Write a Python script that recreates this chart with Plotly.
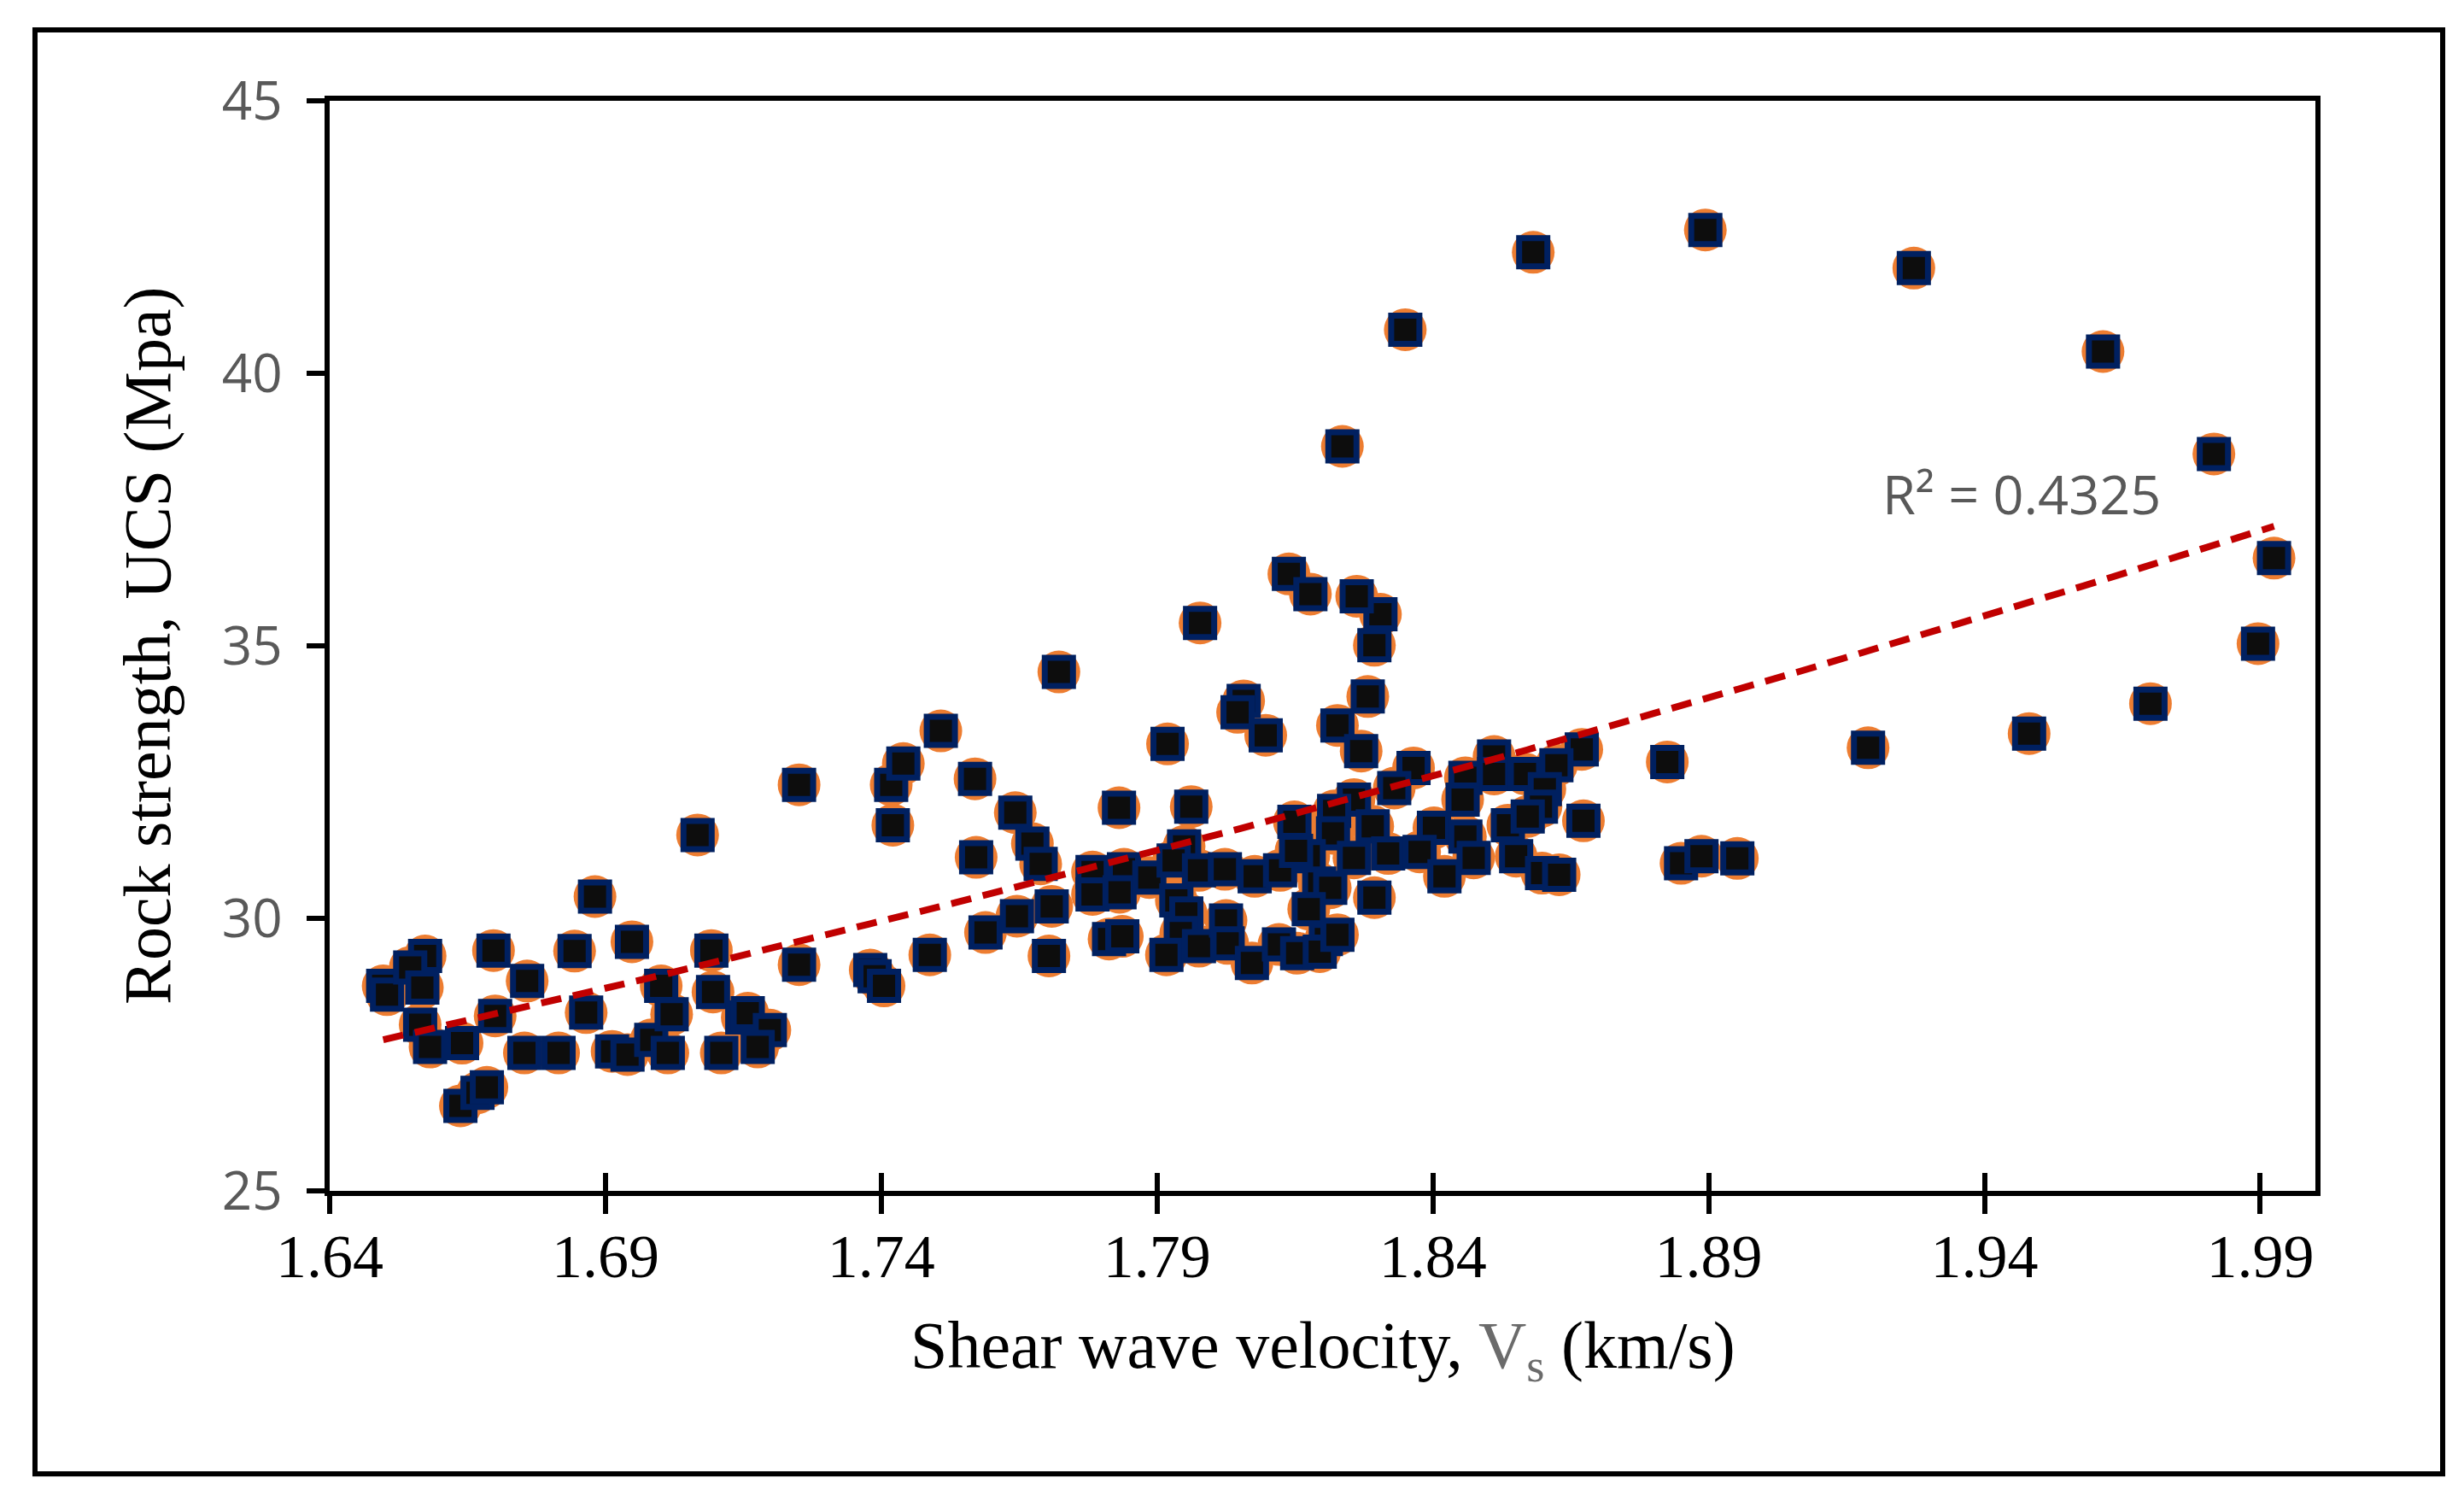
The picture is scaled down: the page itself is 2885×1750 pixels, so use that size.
import numpy as np
import plotly.graph_objects as go

# shear wave velocity (km/s) and rock strength UCS (MPa)
vs = [1.6497, 1.6504, 1.6573, 1.6546, 1.6568, 1.6564, 1.6582, 1.6640, 1.6697, 1.6758,
      1.6700, 1.6637, 1.6668, 1.6685, 1.6753, 1.6815, 1.6844, 1.6865, 1.6881, 1.6948,
      1.6912, 1.6940, 1.6983, 1.7013, 1.7001, 1.7020, 1.7067, 1.7092, 1.7095, 1.7110,
      1.7148, 1.7158, 1.7198, 1.7176, 1.7251, 1.7251, 1.7380, 1.7388, 1.7405, 1.7421,
      1.7418,
      1.7508, 1.7440, 1.7570, 1.7643, 1.7674, 1.7689, 1.7572, 1.7831, 1.7962, 1.7919,
      1.8057, 1.8046, 1.8097, 1.8149, 1.7488, 1.7589, 1.7646, 1.7709, 1.7704, 1.7783,
      1.7783, 1.7840, 1.7832, 1.7886, 1.7813, 1.7837, 1.7949, 1.7930, 1.7976, 1.8023,
      1.7935, 1.7953, 1.7943, 1.7917, 1.7976, 1.8025, 1.8028, 1.8072, 1.8077, 1.8121,
      1.8123,
      1.8294, 1.8305, 1.8282, 1.8227, 1.8270, 1.8670, 1.8624, 1.8825, 1.8511, 1.8511,
      1.8567, 1.8459, 1.8454, 1.8603, 1.8596, 1.8365, 1.8330, 1.8257, 1.8221, 1.8291,
      1.8219, 1.8402, 1.8459, 1.8536, 1.8572, 1.8673, 1.8319, 1.8376, 1.8257, 1.8474,
      1.8551, 1.8598, 1.8629, 1.8421, 1.8294, 1.8850, 1.8887, 1.8175, 1.8152, 1.8194,
      1.8214, 1.8175, 1.8206, 1.8154, 1.8195, 1.8227,
      1.8894, 1.8582, 1.8350, 1.8236, 1.9272, 1.9615, 1.9816, 1.9925, 1.9896, 1.9701,
      1.9481, 1.9189, 1.8952, 1.8139, 1.8178, 1.8262, 1.7978, 1.7722]

ucs = [28.76, 28.60, 29.31, 29.10, 28.73, 28.05, 27.64, 27.71, 29.41, 28.85,
       28.21, 26.56, 26.80, 26.90, 27.53, 27.53, 29.40, 28.27, 30.40, 29.57,
       27.56, 27.50, 27.77, 27.53, 28.76, 28.24, 31.53, 29.41, 28.65, 27.53,
       28.18, 28.26, 27.95, 27.64, 29.15, 32.45, 29.05, 28.94, 28.76, 31.71,
       32.45,
       33.44, 32.84, 32.56, 31.94, 31.37, 31.00, 31.12, 32.03, 32.05, 33.20,
       33.99, 33.78, 33.36, 31.77, 29.33, 29.74, 30.04, 30.22, 29.31, 30.85,
       30.44, 30.90, 30.48, 30.75, 29.62, 29.67, 31.32, 31.06, 30.88, 30.90,
       30.33, 30.09, 29.73, 29.33, 29.49, 29.96, 29.54, 29.18, 30.77, 29.52,
       30.88,
       35.01, 35.58, 34.07, 33.54, 33.07, 33.10, 32.81, 32.87, 32.97, 32.65,
       32.65, 32.58, 32.18, 32.37, 32.05, 32.76, 32.39, 32.18, 31.97, 31.69,
       31.56, 31.66, 31.50, 31.71, 31.87, 31.79, 31.19, 31.22, 31.11, 31.11,
       31.14, 30.83, 30.80, 30.77, 30.38, 31.01, 31.14, 31.14, 31.24, 30.64,
       30.56, 30.17, 29.62, 29.36, 29.39, 29.70,
       42.63, 42.22, 40.80, 38.66, 41.93, 40.40, 38.52, 36.61, 35.04, 33.94,
       33.39, 33.13, 31.10, 36.32, 35.95, 35.91, 35.42, 34.52]

x_ticks = [1.64, 1.69, 1.74, 1.79, 1.84, 1.89, 1.94, 1.99]
y_ticks = [25, 30, 35, 40, 45]
r2_label = "R² = 0.4325"

# second order polynomial trendline, as in the spreadsheet
coef = np.polyfit(vs, ucs, 2)
x_fit = np.linspace(min(vs), max(vs), 120)
y_fit = np.polyval(coef, x_fit)

fig = go.Figure()

fig.add_trace(go.Scatter(x=vs, y=ucs, mode='markers', hoverinfo='skip',
                         marker=dict(symbol='circle', size=50, color='#ED7D31', line=dict(width=0))))
fig.add_trace(go.Scatter(x=vs, y=ucs, mode='markers',
                         marker=dict(symbol='square', size=33, color='#0D0D0D',
                                     line=dict(color='#002060', width=7))))
fig.add_trace(go.Scatter(x=x_fit, y=y_fit, mode='lines', xaxis='x2',
                         line=dict(color='#C00000', width=8, dash='24px,14px')))

serif = 'Liberation Serif, Times New Roman, serif'
sans = 'Open Sans, Lato, sans-serif'

fig.update_layout(
    width=2885, height=1750, autosize=False,
    margin=dict(l=378, r=182, t=110, b=364),
    paper_bgcolor='white', plot_bgcolor='white',
    showlegend=False,
    xaxis=dict(range=[1.64, 2.0], tickvals=x_ticks, ticktext=[f'{v:.2f}' for v in x_ticks],
               ticks='outside', ticklen=21, tickwidth=6, tickcolor='black',
               showline=True, linewidth=6, linecolor='black', mirror=True,
               showgrid=False, zeroline=False, ticklabelstandoff=-12,
               tickfont=dict(family=serif, size=72, color='black')),
    xaxis2=dict(range=[1.64, 2.0], overlaying='x', matches='x', anchor='y', side='bottom',
                tickvals=x_ticks, ticks='inside', ticklen=21, tickwidth=6, tickcolor='black',
                showticklabels=False, showline=False, showgrid=False, zeroline=False),
    yaxis=dict(range=[25, 45], tickvals=y_ticks,
               ticks='outside', ticklen=21, tickwidth=6, tickcolor='black',
               showline=True, linewidth=6, linecolor='black', mirror=True,
               showgrid=False, zeroline=False, ticklabelstandoff=16,
               tickfont=dict(family=sans, size=62, color='#595959')),
    annotations=[
        dict(text="Shear wave velocity, <span style='color:#6b6b6b'>V<sub>s</sub></span> (km/s)",
             xref='paper', yref='paper', x=0.5, y=-0.146, showarrow=False,
             xanchor='center', yanchor='middle',
             font=dict(family=serif, size=78, color='black')),
        dict(text='Rock strength, UCS (Mpa)', textangle=-90,
             xref='paper', yref='paper', x=-0.092, y=0.5, showarrow=False,
             xanchor='center', yanchor='middle',
             font=dict(family=serif, size=78, color='black')),
        dict(text=r2_label, xref='x', yref='y', x=1.9468, y=37.8, showarrow=False,
             xanchor='center', yanchor='middle',
             font=dict(family=sans, size=63, color='#595959')),
    ],
    shapes=[dict(type='rect', xref='paper', yref='paper',
                 x0=-0.1484, x1=1.0641, y0=-0.2596, y1=1.0651,
                 line=dict(color='black', width=6), fillcolor='rgba(0,0,0,0)')],
)

fig.write_html("out.html")
